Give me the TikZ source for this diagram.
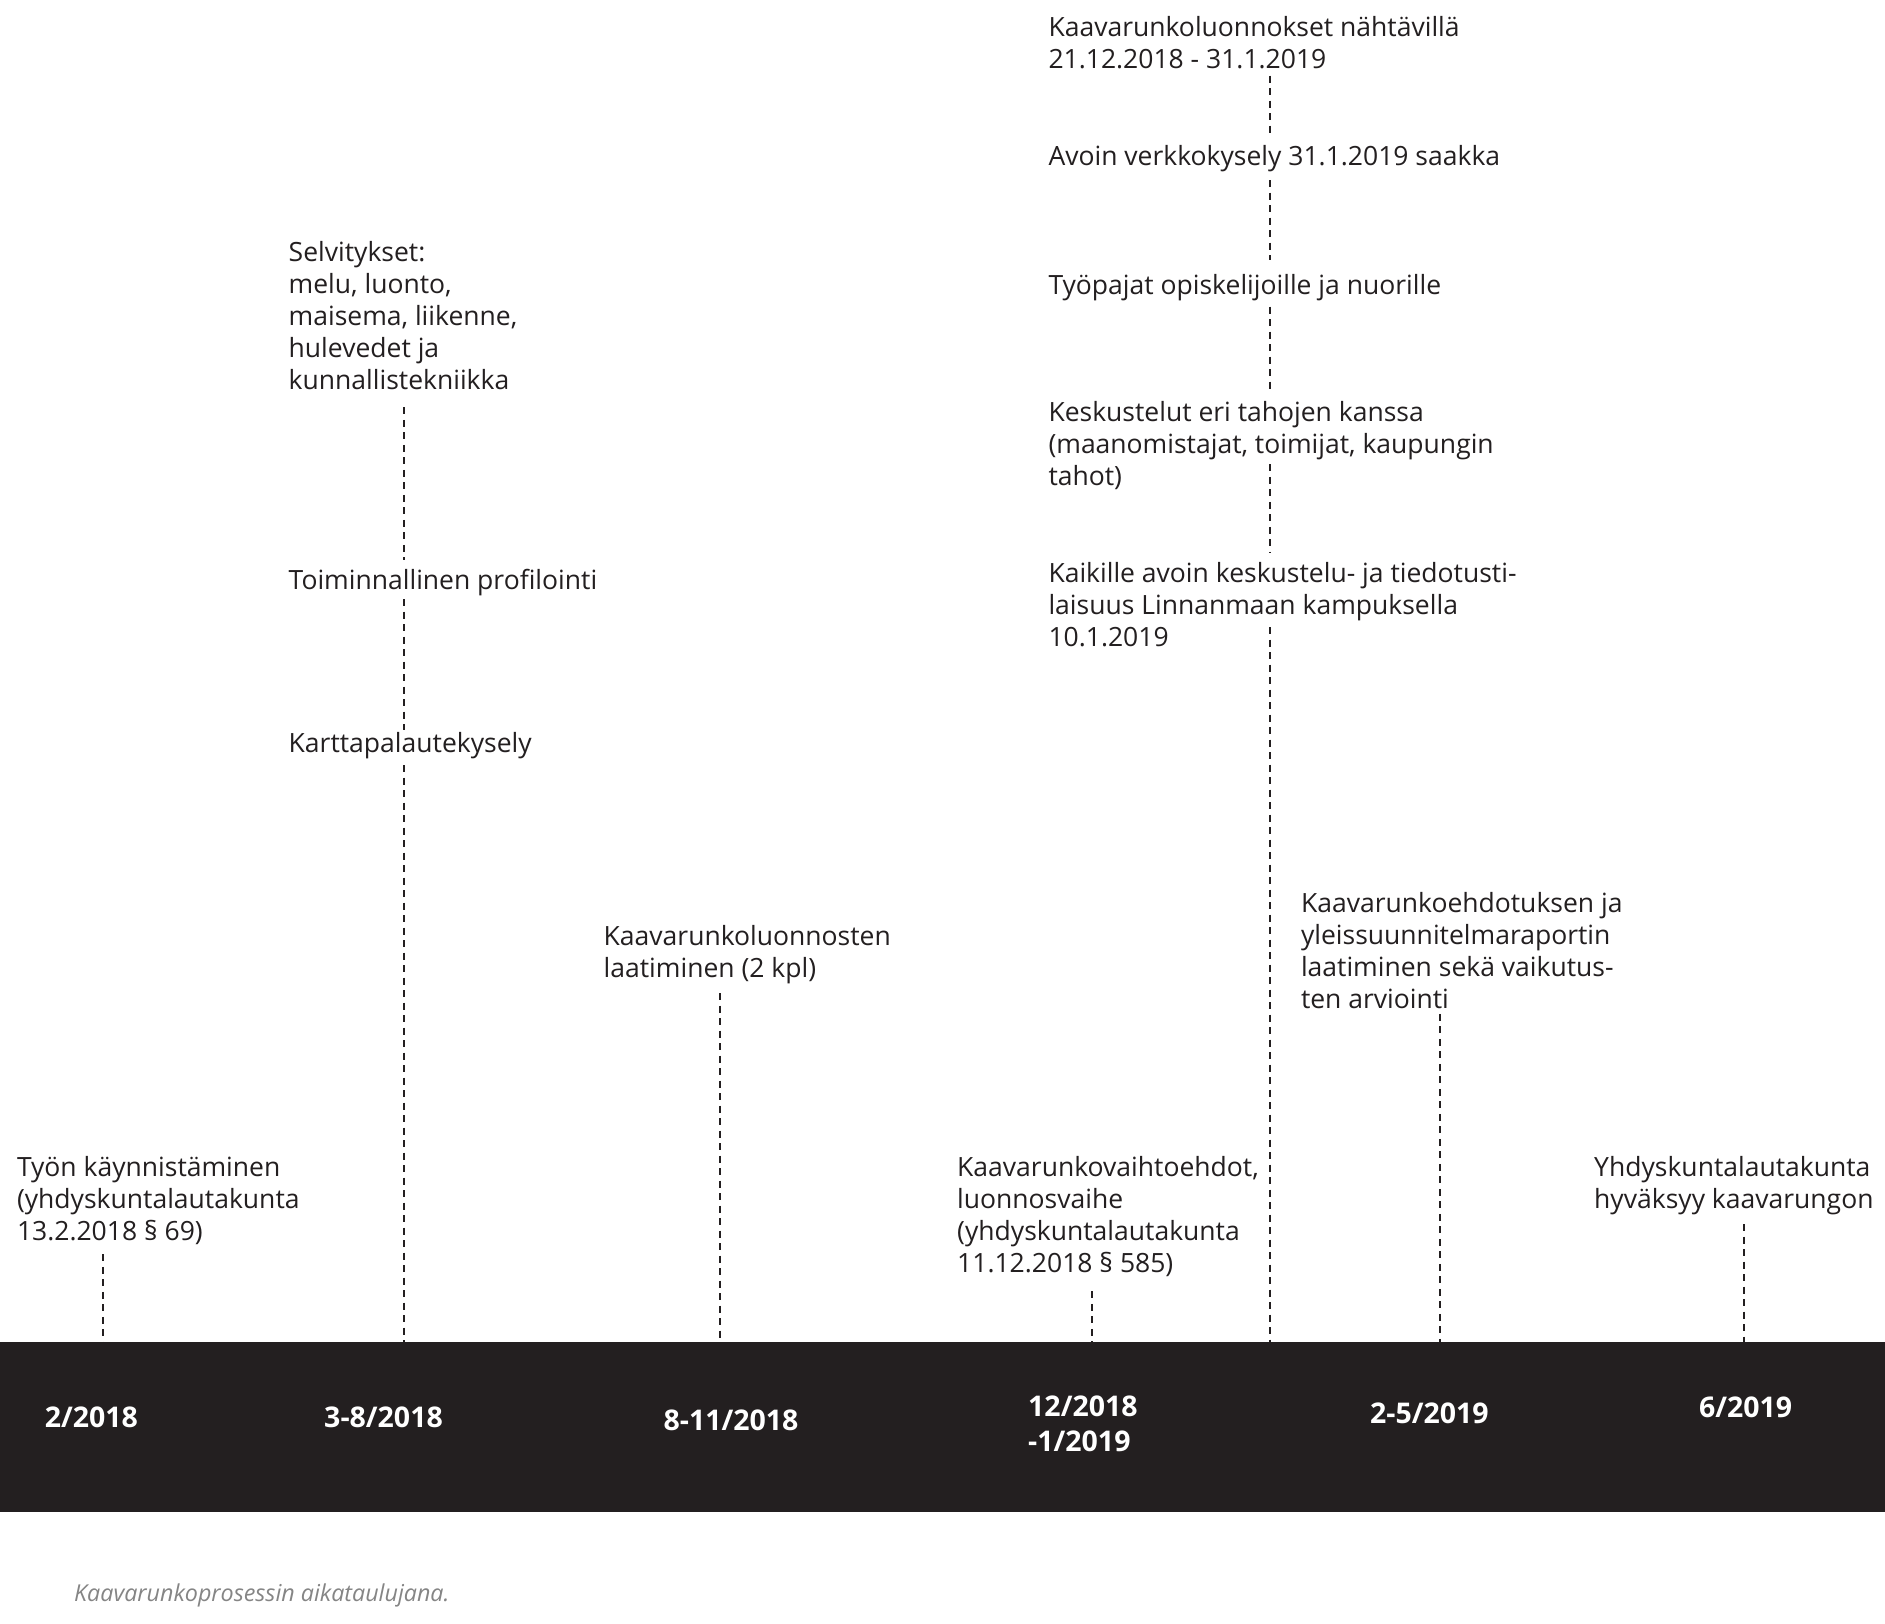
\documentclass[tikz,border=0pt]{standalone}
\usepackage{fontspec}
\setmainfont{Open Sans}
\usetikzlibrary{positioning}
\definecolor{ink}{HTML}{231F20}
\definecolor{capgray}{HTML}{858585}

\begin{document}
\begin{tikzpicture}[x=1pt,y=-1pt,
  txt/.style={anchor=base west,align=left,inner sep=0pt,text=ink,font=\fontsize{26.5}{32}\selectfont},
  datelbl/.style={anchor=base,align=center,inner sep=0pt,text=white,font=\fontsize{28.5}{35}\selectfont\bfseries},
  dline/.style={ink,line width=2pt,dash pattern=on 7pt off 5.5pt,shorten <=8pt,shorten >=8pt},
  tobar/.style={shorten >=0pt}]
\useasboundingbox[fill=white] (0,0) rectangle (1885,1623);
\fill[ink] (0,1342) rectangle (1885,1512);
\coordinate (b1) at (103.4,1342);
\coordinate (b2) at (404.3,1342);
\coordinate (b3) at (720,1342);
\coordinate (b4) at (1091.6,1342);
\coordinate (b5) at (1269.5,1342);
\coordinate (b6) at (1440,1342);
\coordinate (b7) at (1744,1342);
% texts above the bar (placed at the baseline of the last line)
\node[txt] (tyon) at (16.8,1240) {Työn käynnistäminen\\(yhdyskuntalautakunta\\13.2.2018 § 69)};
\node[txt] (selv) at (288.5,389.5) {Selvitykset:\\melu, luonto,\\maisema, liikenne,\\hulevedet ja\\kunnallistekniikka};
\node[txt] (toim) at (288.5,589.5) {Toiminnallinen profilointi};
\node[txt] (kartta) at (288.5,752) {Karttapalautekysely};
\node[txt] (laatim) at (603.5,977.5) {Kaavarunkoluonnosten\\laatiminen (2 kpl)};
\node[txt] (vaiht) at (957,1272) {Kaavarunkovaihtoehdot,\\luonnosvaihe\\(yhdyskuntalautakunta\\11.12.2018 § 585)};
\node[txt] (nahtav) at (1048.3,68.5) {Kaavarunkoluonnokset nähtävillä\\21.12.2018 - 31.1.2019};
\node[txt] (avoin) at (1048.3,165) {Avoin verkkokysely 31.1.2019 saakka};
\node[txt] (tyopaj) at (1048.3,294) {Työpajat opiskelijoille ja nuorille};
\node[txt] (kesk) at (1048.3,485) {Keskustelut eri tahojen kanssa\\(maanomistajat, toimijat, kaupungin\\tahot)};
\node[txt] (kaik) at (1048.3,646.5) {Kaikille avoin keskustelu- ja tiedotusti-\\laisuus Linnanmaan kampuksella\\10.1.2019};
\node[txt] (ehdot) at (1300.8,1008) {Kaavarunkoehdotuksen ja\\yleissuunnitelmaraportin\\laatiminen sekä vaikutus-\\ten arviointi};
\node[txt] (hyv) at (1594,1208) {Yhdyskuntalautakunta\\hyväksyy kaavarungon};
% dashed leaders
\draw[dline,tobar,shorten <=10pt] (tyon.south -| b1) -- (b1);
\draw[dline,shorten <=17.5pt,shorten >=9.5pt] (selv.south -| b2) -- (toim.north -| b2);
\draw[dline,shorten <=3pt,shorten >=2pt] (toim.south -| b2) -- (kartta.north -| b2);
\draw[dline,tobar,shorten <=6.5pt] (kartta.south -| b2) -- (b2);
\draw[dline,tobar,shorten <=9pt] (laatim.south -| b3) -- (b3);
\draw[dline,tobar,shorten <=15pt] (vaiht.south -| b4) -- (b4);
\draw[dline,shorten <=6.5pt] (nahtav.south -| b5) -- (avoin.north -| b5);
\draw[dline,shorten <=8.6pt,shorten >=14pt] (avoin.south -| b5) -- (tyopaj.north -| b5);
\draw[dline,shorten <=6pt] (tyopaj.south -| b5) -- (kesk.north -| b5);
\draw[dline,shorten <=-25pt,shorten >=9.5pt] (kesk.south -| b5) -- (kaik.north -| b5);
\draw[dline,tobar,shorten <=-20pt] (kaik.south -| b5) -- (b5);
\draw[dline,tobar,shorten <=5.5pt] (ehdot.south -| b6) -- (b6);
\draw[dline,tobar,shorten <=9.6pt] (hyv.south -| b7) -- (b7);
% dates in the bar
\node[datelbl] (d1) at (91.4,1427.5) {2/2018};
\node[datelbl] (d2) at (383.5,1427.5) {3-8/2018};
\node[datelbl] (d3) at (731,1430) {8-11/2018};
\node[datelbl,anchor=base west,align=left] (d4) at (1028,1451.7) {12/2018\\-1/2019};
\node[datelbl] (d5) at (1429.4,1423) {2-5/2019};
\node[datelbl] (d6) at (1745.6,1417) {6/2019};
\node[anchor=base west,inner sep=0pt,text=capgray,font=\fontsize{23.3}{28}\selectfont\itshape] (cap) at (74,1601.7) {Kaavarunkoprosessin aikataulujana.};
\end{tikzpicture}
\end{document}
